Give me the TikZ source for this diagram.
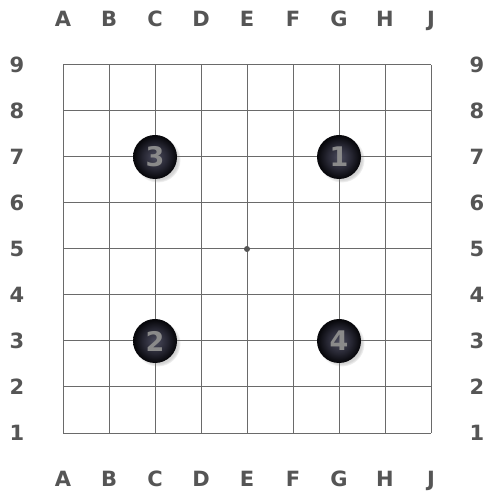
\documentclass[tikz,border=0pt]{standalone}
\usepackage{fontspec}
\setmainfont{DejaVu Sans}
\usetikzlibrary{shadows}
\definecolor{gridgray}{HTML}{6A6A6A}
\definecolor{labelgray}{HTML}{555555}
\definecolor{numgray}{HTML}{8A8A8A}
\definecolor{stonehi}{HTML}{4C4C5E}
\definecolor{stonemid}{HTML}{262632}
\definecolor{stoneedge}{HTML}{08080C}
\pgfdeclareradialshading{stoneshade}{\pgfpoint{0bp}{0bp}}{color(0bp)=(stonehi); color(14bp)=(stonemid); color(24bp)=(stoneedge); color(50bp)=(black)}

\begin{document}
\begin{tikzpicture}[x=46pt,y=46pt,
    coordlabel/.style={font=\fontsize{21}{21}\selectfont\bfseries, text=labelgray, inner sep=0pt, anchor=base, yshift=-7.8pt},
    stone/.style={circle, minimum size=44pt, inner sep=0pt, shading=stoneshade,
        circular drop shadow={shadow xshift=2.5pt, shadow yshift=-2.5pt, shadow scale=1.05, opacity=0.35},
        font=\fontsize{27}{27}\selectfont\bfseries, text=numgray}]
    \useasboundingbox (-1.3696,-1.413) rectangle (9.348,9.413);

    % board
    \foreach \i in {0,...,8} {
        \draw[gridgray, line width=1pt] (\i,0) -- (\i,8);
        \draw[gridgray, line width=1pt] (0,\i) -- (8,\i);
    }
    \fill[labelgray] (4,4) circle (3pt);

    % coordinates
    \foreach \c [count=\i from 0] in {A,B,C,D,E,F,G,H,J} {
        \node[coordlabel] (top\c) at (\i,9) {\c};
        \node[coordlabel] (bot\c) at (\i,-1) {\c};
    }
    \foreach \r in {1,...,9} {
        \node[coordlabel] (left\r) at (-1,\r-1) {\r};
        \node[coordlabel] (right\r) at (9,\r-1) {\r};
    }

    % stones
    \node[stone] (g7) at (6,6) {1};
    \node[stone] (c3) at (2,2) {2};
    \node[stone] (c7) at (2,6) {3};
    \node[stone] (g3) at (6,2) {4};
\end{tikzpicture}
\end{document}
